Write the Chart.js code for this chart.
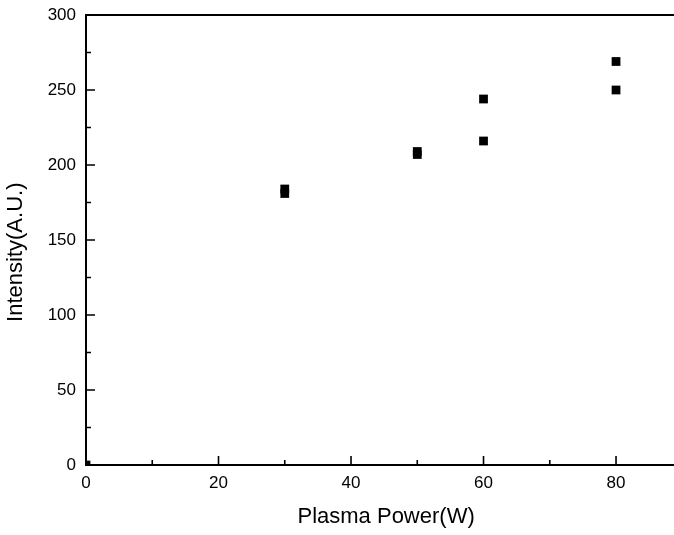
<!DOCTYPE html>
<html>
<head>
<meta charset="utf-8">
<script src="https://cdn.jsdelivr.net/npm/chart.js@4/dist/chart.umd.min.js"></script>
<style>
  html, body { margin: 0; padding: 0; background: #fff; overflow: hidden; }
  #wrap { width: 674px; height: 535px; }
</style>
</head>
<body>
<div id="wrap"><canvas id="c" width="674" height="535"></canvas></div>
<script>
// ---- data ----
const powerW    = [0, 30, 30, 50, 50, 60, 60, 80, 80];
const intensity = [0, 181, 184, 207, 209, 216, 244, 250, 269];
const xMajorTicks = [0, 20, 40, 60, 80];
const xMinorTicks = [10, 30, 50, 70];
const yMajorTicks = [0, 50, 100, 150, 200, 250, 300];
const yMinorTicks = [25, 75, 125, 175, 225, 275];
const xTitle = 'Plasma Power(W)';
const yTitle = 'Intensity(A.U.)';

const points = powerW.map((x, i) => ({ x: x, y: intensity[i] }));

const FONT = "'Liberation Sans', Arial, sans-serif";

function noPad(s) { s.paddingTop = 0; s.paddingBottom = 0; s.paddingLeft = 0; s.paddingRight = 0; }

const inwardTicks = {
  id: 'inwardTicks',
  afterDatasetsDraw(chart) {
    const { ctx, chartArea: a, scales: { x, y } } = chart;
    ctx.save();
    ctx.strokeStyle = '#000';
    ctx.lineWidth = 1.6;
    ctx.beginPath();
    xMajorTicks.forEach(v => { const p = x.getPixelForValue(v); ctx.moveTo(p, a.bottom); ctx.lineTo(p, a.bottom - 9); });
    xMinorTicks.forEach(v => { const p = x.getPixelForValue(v); ctx.moveTo(p, a.bottom); ctx.lineTo(p, a.bottom - 5); });
    yMajorTicks.forEach(v => { const p = y.getPixelForValue(v); ctx.moveTo(a.left, p); ctx.lineTo(a.left + 9, p); });
    yMinorTicks.forEach(v => { const p = y.getPixelForValue(v); ctx.moveTo(a.left, p); ctx.lineTo(a.left + 5, p); });
    ctx.stroke();
    // top frame line
    ctx.lineWidth = 2;
    ctx.beginPath();
    ctx.moveTo(a.left - 1, a.top);
    ctx.lineTo(a.right + 1, a.top);
    ctx.stroke();
    ctx.restore();
  }
};

new Chart(document.getElementById('c'), {
  type: 'scatter',
  data: {
    datasets: [{
      data: points,
      backgroundColor: '#000',
      borderColor: '#000',
      borderWidth: 0,
      pointStyle: 'rect',
      pointRadius: 6.2,
      pointHoverRadius: 6.2,
      clip: 0
    }]
  },
  options: {
    responsive: false,
    animation: false,
    events: [],
    layout: { autoPadding: false, padding: { top: 15, right: 0, left: 0, bottom: 0 } },
    plugins: { legend: { display: false }, tooltip: { enabled: false } },
    scales: {
      x: {
        type: 'linear',
        min: 0, max: 88.75,
        afterBuildTicks: s => { s.ticks = xMajorTicks.map(v => ({ value: v })); },
        afterFit: s => { s.height = 70; noPad(s); },
        grid: { display: true, drawOnChartArea: false, drawTicks: false },
        border: { display: true, color: '#000', width: 2 },
        ticks: { color: '#000', font: { family: FONT, size: 17 }, padding: 8, maxRotation: 0 },
        title: { display: true, text: '  ' + xTitle, color: '#000', font: { family: FONT, size: 22 }, padding: { top: 0, bottom: 5 } }
      },
      y: {
        type: 'linear',
        min: 0, max: 300,
        afterBuildTicks: s => { s.ticks = yMajorTicks.map(v => ({ value: v })); },
        afterFit: s => { s.width = 86; noPad(s); },
        grid: { display: true, drawOnChartArea: false, drawTicks: false },
        border: { display: true, color: '#000', width: 2 },
        ticks: { color: '#000', font: { family: FONT, size: 17 }, padding: 10 },
        title: { display: true, text: yTitle + '    ', color: '#000', font: { family: FONT, size: 22 }, padding: { top: 3, bottom: 0 } }
      }
    }
  },
  plugins: [inwardTicks]
});
</script>
</body>
</html>
